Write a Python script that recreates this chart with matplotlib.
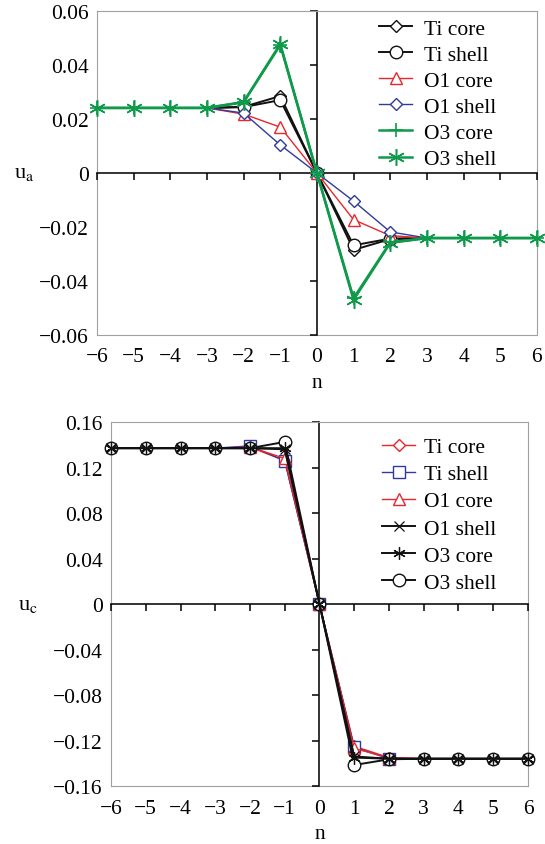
import matplotlib
matplotlib.use("Agg")
import matplotlib.pyplot as plt

plt.rcParams['font.family'] = ['Liberation Serif', 'DejaVu Serif']
plt.rcParams['mathtext.fontset'] = 'stix'
plt.rcParams['font.size'] = 15.5

# data
n_all = [-6, -5, -4, -3, -2, -1, 0, 1, 2, 3, 4, 5, 6]
n_mid = [-3, -2, -1, 0, 1, 2, 3]

# u_a (top panel)
ti_core_a = [0.0241, 0.0245, 0.0285, 0, -0.0285, -0.0245, -0.0241]
ti_shell_a = [0.0241, 0.0244, 0.0270, 0, -0.0268, -0.0243, -0.0241]
o1_core_a = [0.0241, 0.0218, 0.0170, 0, -0.0173, -0.0232, -0.0241]
o1_shell_a = [0.0241, 0.0222, 0.0104, 0, -0.0104, -0.0218, -0.0241]
o3_core_a = [0.0241, 0.0241, 0.0241, 0.0241, 0.0262, 0.0474, 0,
             -0.0464, -0.0257, -0.0241, -0.0241, -0.0241, -0.0241]
o3_shell_a = [0.0241, 0.0241, 0.0241, 0.0241, 0.0263, 0.0478, 0,
              -0.0470, -0.0259, -0.0241, -0.0241, -0.0241, -0.0241]

# u_c (bottom panel)
ti_core_c = [0.137, 0.137, 0.137, 0.137, 0.138, 0.126, 0,
             -0.125, -0.135, -0.136, -0.136, -0.136, -0.136]
ti_shell_c = [0.137, 0.137, 0.137, 0.137, 0.139, 0.126, 0,
              -0.126, -0.136, -0.136, -0.136, -0.136, -0.136]
o1_core_c = [0.137, 0.137, 0.137, 0.137, 0.138, 0.128, 0,
             -0.127, -0.135, -0.136, -0.136, -0.136, -0.136]
o1_shell_c = [0.137, 0.137, 0.137, 0.137, 0.137, 0.136, 0,
              -0.134, -0.136, -0.136, -0.136, -0.136, -0.136]
o3_core_c = [0.137, 0.137, 0.137, 0.137, 0.137, 0.137, 0,
             -0.135, -0.136, -0.136, -0.136, -0.136, -0.136]
o3_shell_c = [0.137, 0.137, 0.137, 0.137, 0.137, 0.1425, 0,
              -0.1415, -0.1365, -0.136, -0.136, -0.136, -0.136]

x_ticks = [-6, -5, -4, -3, -2, -1, 0, 1, 2, 3, 4, 5, 6]
x_labels = ['\u22126', '\u22125', '\u22124', '\u22123', '\u22122', '\u22121',
            '0', '1', '2', '3', '4', '5', '6']
ya_ticks = [-0.06, -0.04, -0.02, 0, 0.02, 0.04, 0.06]
ya_labels = ['\u22120.06', '\u22120.04', '\u22120.02', '0', '0.02', '0.04', '0.06']
yc_ticks = [-0.16, -0.12, -0.08, -0.04, 0, 0.04, 0.08, 0.12, 0.16]
yc_labels = ['\u22120.16', '\u22120.12', '\u22120.08', '\u22120.04', '0',
             '0.04', '0.08', '0.12', '0.16']

RED = '#e8262b'
BLUE = '#2e3b9c'
GREEN = '#0e9a4a'
BLACK = '#111111'
GRAY = '#a0a0a0'
star6 = (6, 2, 0)


def setup(ax, yticks, ylabels, ylim, ylab, lab_x):
    ax.set_xlim(-6, 6)
    ax.set_ylim(*ylim)
    # zero lines carry the ticks
    ax.spines['left'].set_position(('data', 0))
    ax.spines['bottom'].set_position(('data', 0))
    ax.spines['left'].set_color(BLACK)
    ax.spines['bottom'].set_color(BLACK)
    ax.spines['left'].set_linewidth(1.2)
    ax.spines['bottom'].set_linewidth(1.2)
    ax.spines['top'].set_color(GRAY)
    ax.spines['right'].set_color(GRAY)
    for s in ['top', 'right', 'bottom']:
        ax.spines[s].set_zorder(2.8)
    ax.xaxis.set_zorder(2.8)
    ax.set_xticks(x_ticks)
    ax.set_yticks(yticks)
    ax.tick_params(direction='out', length=5, width=1.1,
                   labelleft=False, labelbottom=False)
    # box edges carry the labels
    sx = ax.secondary_xaxis(0.0)
    sx.set_xticks(x_ticks, x_labels)
    sx.tick_params(length=0, pad=9)
    sx.spines['bottom'].set_color(GRAY)
    sx.set_xlabel('n', labelpad=5)
    sy = ax.secondary_yaxis(0.0)
    sy.set_yticks(yticks, ylabels)
    sy.tick_params(length=0, pad=6)
    sy.spines['left'].set_color(GRAY)
    ax.text(lab_x, 0.5, ylab, transform=ax.transAxes, ha='center', va='center',
            fontsize=16)


fig = plt.figure(figsize=(5.45, 8.45), dpi=100)

# top panel
ax1 = fig.add_axes([0.178, 0.6024, 0.807, 0.3834])
setup(ax1, ya_ticks, ya_labels, (-0.06, 0.06), r'u$_{\rm a}$', -0.165)
mk = dict(markerfacecolor='white', clip_on=False, markersize=8)
ax1.plot(n_mid, ti_core_a, color=BLACK, lw=1.4, marker='D', markevery=[1, 2, 3, 4, 5],
         label='Ti core', zorder=3, **dict(mk, markersize=6.5))
ax1.plot(n_mid, ti_shell_a, color=BLACK, lw=1.4, marker='o', markevery=[1, 2, 3, 4, 5],
         label='Ti shell', zorder=3.1, **dict(mk, markersize=9))
ax1.plot(n_mid, o1_core_a, color=RED, lw=1.0, marker='^', markevery=[1, 2, 3, 4, 5],
         label='O1 core', zorder=3.2, **dict(mk, markersize=9))
ax1.plot(n_mid, o1_shell_a, color=BLUE, lw=1.0, marker='D', markevery=[1, 2, 3, 4, 5],
         label='O1 shell', zorder=3.3, **dict(mk, markersize=6.5))
ax1.plot(n_all, o3_core_a, color=GREEN, lw=1.8, marker='+', markersize=10,
         markeredgewidth=1.2, label='O3 core', zorder=3.4, clip_on=False)
ax1.plot(n_all, o3_shell_a, color=GREEN, lw=1.8, marker=star6, markersize=12,
         markeredgewidth=1.1, label='O3 shell', zorder=3.5, clip_on=False)
leg1 = ax1.legend(loc='upper left', bbox_to_anchor=(0.625, 1.0), frameon=True,
                  facecolor='white', edgecolor='none', framealpha=1, fancybox=False,
                  borderaxespad=0, handlelength=1.5, handletextpad=0.55,
                  labelspacing=0.28, borderpad=0.35)
leg1.set_zorder(2.6)

# bottom panel
ax2 = fig.add_axes([0.2037, 0.0686, 0.765, 0.4308])
setup(ax2, yc_ticks, yc_labels, (-0.16, 0.16), r'u$_{\rm c}$', -0.2)
mid_marks = [4, 5, 6, 7, 8]
ax2.plot(n_all, ti_core_c, color=RED, lw=1.0, marker='D', markevery=mid_marks,
         label='Ti core', zorder=3, **dict(mk, markersize=6.5))
ax2.plot(n_all, ti_shell_c, color=BLUE, lw=1.0, marker='s', markevery=mid_marks,
         label='Ti shell', zorder=3.1, **dict(mk, markersize=8))
ax2.plot(n_all, o1_core_c, color=RED, lw=1.0, marker='^', markevery=mid_marks,
         label='O1 core', zorder=3.2, **dict(mk, markersize=9))
ax2.plot(n_all, o3_shell_c, color=BLACK, lw=1.4, marker='o', label='O3 shell',
         zorder=3.3, **dict(mk, markersize=9))
ax2.plot(n_all, o1_shell_c, color=BLACK, lw=1.4, marker='x', markersize=7,
         markeredgewidth=0.9, label='O1 shell', zorder=3.4, clip_on=False)
ax2.plot(n_all, o3_core_c, color=BLACK, lw=1.4, marker=star6, markersize=9,
         markeredgewidth=0.9, label='O3 core', zorder=3.5, clip_on=False)
h, l = ax2.get_legend_handles_labels()
order = ['Ti core', 'Ti shell', 'O1 core', 'O1 shell', 'O3 core', 'O3 shell']
hh = [h[l.index(s)] for s in order]
leg2 = ax2.legend(hh, order, loc='upper left', bbox_to_anchor=(0.615, 1.0), frameon=True,
                  facecolor='white', edgecolor='none', framealpha=1, fancybox=False,
                  borderaxespad=0, handlelength=1.5, handletextpad=0.45,
                  labelspacing=0.33, borderpad=0.7)
leg2.set_zorder(2.6)

fig.savefig('out.png', dpi=100)
